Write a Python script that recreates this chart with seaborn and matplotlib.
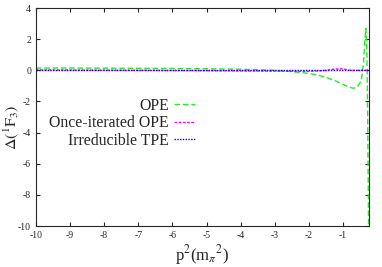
import matplotlib
matplotlib.use("Agg")
import matplotlib.pyplot as plt
import seaborn as sns
import pandas as pd

# p^2 in units of m_pi^2
p2 = [-10, -9, -8, -7, -6, -5, -4, -3, -2.5, -2, -1.75, -1.5, -1.25, -1.0,
      -0.85, -0.7, -0.6, -0.5, -0.45, -0.4, -0.36, -0.33, -0.3, -0.28, -0.26, -0.25]
ope = [0.15, 0.15, 0.14, 0.13, 0.12, 0.1, 0.07, 0.0, -0.08, -0.2, -0.3, -0.45, -0.65, -0.9,
       -1.05, -1.15, -1.1, -0.8, -0.4, 0.5, 2.0, 2.7, 1.0, -3.0, -8.0, -10.5]
once_ope = [0.03, 0.02, 0.01, 0.0, -0.01, -0.02, -0.04, -0.05, -0.06, -0.06, -0.04, 0.0, 0.08, 0.1,
            0.02, 0.0, 0.0, 0.0, 0.0, 0.0, 0.0, 0.0, 0.0, 0.0, 0.0, 0.0]
irr_tpe = [0.0] * len(p2)

sns.set_style("ticks")
plt.rcParams["font.family"] = ["Liberation Serif", "DejaVu Serif"]
plt.rcParams["mathtext.fontset"] = "stix"
plt.rcParams["axes.unicode_minus"] = False

df = pd.DataFrame({"p2": p2, "OPE": ope, "Once-iterated OPE": once_ope, "Irreducible TPE": irr_tpe})

fig, ax = plt.subplots(figsize=(3.82, 2.67), dpi=100)
fig.subplots_adjust(left=0.094, right=0.966, top=0.97, bottom=0.153)

sns.lineplot(data=df, x="p2", y="OPE", ax=ax, color="#22ee22", lw=1.0,
             linestyle=(0, (4, 2)), label="OPE")
sns.lineplot(data=df, x="p2", y="Once-iterated OPE", ax=ax, color="#ff00ff", lw=1.0,
             linestyle=(0, (2, 1)), label="Once-iterated OPE")
sns.lineplot(data=df, x="p2", y="Irreducible TPE", ax=ax, color="#0000ff", lw=1.0,
             linestyle=(0, (1, 1)), label="Irreducible TPE")

ax.set_xlim(-10, -0.24)
ax.set_ylim(-10, 4)
ax.set_xticks(range(-10, 0))
ax.set_yticks(range(-10, 5, 2))
ax.tick_params(direction="in", top=True, right=True, labelsize=7, length=3)
ax.set_xlabel(r"p$^2$(m$_\pi$$^2$)", fontsize=12, labelpad=2)
ax.set_ylabel(r"$\Delta(^1\mathrm{F}_3)$", fontsize=11.5)
ax.yaxis.set_label_coords(-0.044, 0.454)

ax.legend(loc="upper right", bbox_to_anchor=(0.50, 0.625), frameon=False,
          markerfirst=False, fontsize=11.3, handlelength=1.3, labelspacing=0.1,
          borderpad=0, handletextpad=0.35)

fig.savefig("out.png", dpi=100)
